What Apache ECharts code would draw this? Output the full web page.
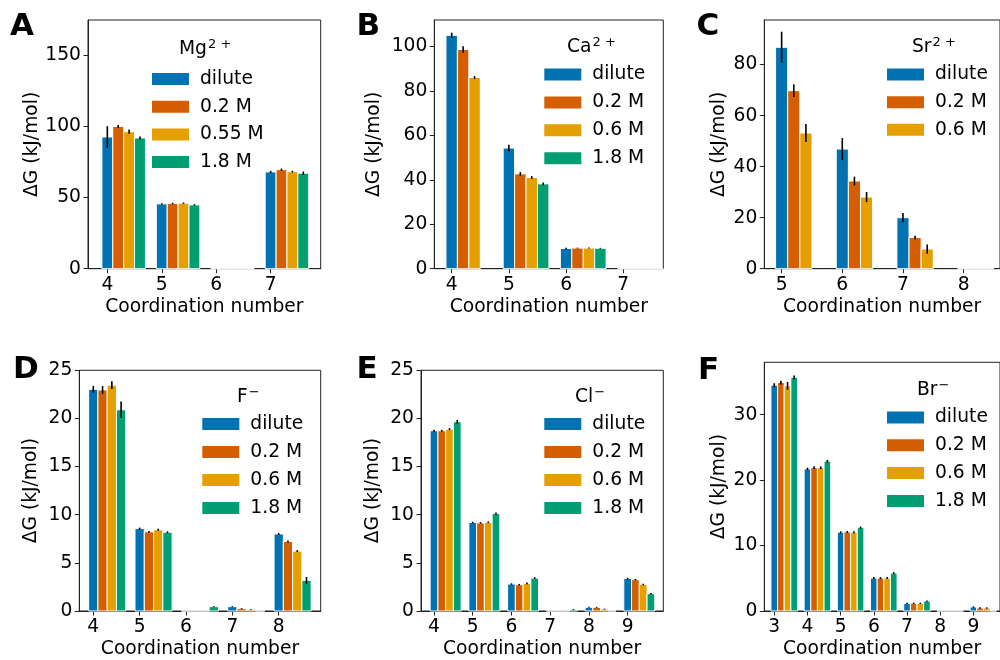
<!DOCTYPE html>
<html>
<head>
<meta charset="utf-8">
<script src="https://cdn.jsdelivr.net/npm/echarts@6/dist/echarts.min.js"></script>
<style>html,body{margin:0;padding:0;background:#fff}#c{width:1000px;height:660px}</style>
</head>
<body>
<div id="c"></div>
<script>
// ---------- DATA ----------
const seriesColors = ['#0072B2', '#D55E00', '#E69F00', '#009E73'];

// A: Mg2+
const catsMg = [4, 5, 6, 7];
const namesMg = ['dilute', '0.2 M', '0.55 M', '1.8 M'];
const mgDilute = [92.7, 45.6, 0, 68.1];
const mg02 = [100.1, 45.9, 0, 69.7];
const mg055 = [96.4, 46.1, 0, 68.3];
const mg18 = [92.0, 44.9, 0, 67.2];
const mgDiluteErr = [7.6, 0.5, 0, 0.8];
const mg02Err = [1.0, 0.5, 0, 0.8];
const mg055Err = [1.5, 0.5, 0, 0.6];
const mg18Err = [1.0, 0.5, 0, 1.2];
const yTicksMg = [0, 50, 100, 150];

// B: Ca2+
const catsCa = [4, 5, 6, 7];
const namesCa = ['dilute', '0.2 M', '0.6 M', '1.8 M'];
const caDilute = [105.1, 54.3, 9.1, 0];
const ca02 = [98.7, 42.7, 9.3, 0];
const ca06 = [86.1, 41.1, 9.3, 0];
const ca18 = [null, 38.2, 9.2, 0];
const caDiluteErr = [1.2, 1.5, 0.3, 0];
const ca02Err = [1.5, 0.8, 0.2, 0];
const ca06Err = [0.6, 0.6, 0.2, 0];
const ca18Err = [0, 0.6, 0.2, 0];
const yTicksCa = [0, 20, 40, 60, 80, 100];

// C: Sr2+
const catsSr = [5, 6, 7, 8];
const namesSr = ['dilute', '0.2 M', '0.6 M'];
const srDilute = [86.8, 46.9, 20.0, 0];
const sr02 = [69.8, 34.4, 12.2, 0];
const sr06 = [53.2, 28.1, 7.7, 0];
const srDiluteErr = [6.1, 4.3, 1.8, 0];
const sr02Err = [2.5, 1.7, 0.7, 0];
const sr06Err = [3.5, 2.0, 1.8, 0];
const yTicksSr = [0, 20, 40, 60, 80];

// D: F-
const catsF = [4, 5, 6, 7, 8];
const namesF = ['dilute', '0.2 M', '0.6 M', '1.8 M'];
const fDilute = [23.03, 8.56, 0, 0.45, 8.0];
const f02 = [22.96, 8.22, 0, 0.25, 7.22];
const f06 = [23.45, 8.43, 0, 0.17, 6.22];
const f18 = [20.9, 8.18, 0.45, 0, 3.18];
const fDiluteErr = [0.35, 0.1, 0, 0.05, 0.1];
const f02Err = [0.4, 0.1, 0, 0.05, 0.1];
const f06Err = [0.4, 0.1, 0, 0.05, 0.1];
const f18Err = [0.86, 0.1, 0.05, 0, 0.35];
const yTicksF = [0, 5, 10, 15, 20, 25];

// E: Cl-
const catsCl = [4, 5, 6, 7, 8, 9];
const namesCl = ['dilute', '0.2 M', '0.6 M', '1.8 M'];
const clDilute = [18.72, 9.19, 2.80, 0, 0.38, 3.38];
const cl02 = [18.72, 9.15, 2.73, 0, 0.38, 3.25];
const cl06 = [18.89, 9.22, 2.87, 0, 0.2, 2.76];
const cl18 = [19.65, 10.12, 3.42, 0.17, 0, 1.8];
const clDiluteErr = [0.1, 0.08, 0.08, 0, 0.05, 0.08];
const cl02Err = [0.1, 0.08, 0.08, 0, 0.05, 0.08];
const cl06Err = [0.1, 0.08, 0.08, 0, 0.05, 0.08];
const cl18Err = [0.2, 0.1, 0.1, 0.05, 0, 0.08];
const yTicksCl = [0, 5, 10, 15, 20, 25];

// F: Br-
const catsBr = [3, 4, 5, 6, 7, 8, 9];
const namesBr = ['dilute', '0.2 M', '0.6 M', '1.8 M'];
const brDilute = [34.5, 21.7, 12.03, 5.03, 1.17, 0, 0.61];
const br02 = [34.9, 21.9, 12.08, 5.03, 1.17, 0, 0.46];
const br06 = [34.4, 21.9, 12.03, 5.03, 1.17, 0, 0.46];
const br18 = [35.7, 22.9, 12.74, 5.79, 1.52, 0, 0];
const brDiluteErr = [0.3, 0.2, 0.15, 0.15, 0.1, 0, 0.1];
const br02Err = [0.3, 0.2, 0.15, 0.15, 0.1, 0, 0.1];
const br06Err = [0.6, 0.2, 0.15, 0.15, 0.1, 0, 0.1];
const br18Err = [0.3, 0.2, 0.15, 0.15, 0.1, 0, 0];
const yTicksBr = [0, 10, 20, 30];

// ---------- LAYOUT ----------
const FONT = 'DejaVu Sans';
const FS = 18.7;
const panels = [
  {letter: 'A', ion: 'Mg', sup: '2 +', cats: catsMg, names: namesMg,
   vals: [mgDilute, mg02, mg055, mg18], errs: [mgDiluteErr, mg02Err, mg055Err, mg18Err], yTicks: yTicksMg,
   grid: {left: 88, top: 20, width: 232.7, height: 248.7}, x: [3.645, 7.92], y: [0, 175], yGap: 46,
   leg: {left: 147, top: 64, gap: 7.7}, ttl: [179, 47], let: [10, 27]},
  {letter: 'B', ion: 'Ca', sup: '2 +', cats: catsCa, names: namesCa,
   vals: [caDilute, ca02, ca06, ca18], errs: [caDiluteErr, ca02Err, ca06Err, ca18Err], yTicks: yTicksCa,
   grid: {left: 434.3, top: 20, width: 229, height: 248.7}, x: [3.696, 7.70], y: [0, 112], yGap: 51,
   leg: {left: 539.3, top: 59.5, gap: 7.9}, ttl: [567, 45], let: [356.5, 27]},
  {letter: 'C', ion: 'Sr', sup: '2 +', cats: catsSr, names: namesSr,
   vals: [srDilute, sr02, sr06], errs: [srDiluteErr, sr02Err, sr06Err], yTicks: yTicksSr,
   grid: {left: 764.3, top: 20, width: 236.3, height: 248.7}, x: [4.714, 8.6], y: [0, 97.5], yGap: 36,
   leg: {left: 882, top: 59.5, gap: 7.65}, ttl: [912, 45], let: [696.5, 27]},
  {letter: 'D', ion: 'F', sup: '−', cats: catsF, names: namesF,
   vals: [fDilute, f02, f06, f18], errs: [fDiluteErr, f02Err, f06Err, f18Err], yTicks: yTicksF,
   grid: {left: 79.3, top: 370.3, width: 241.4, height: 241.4}, x: [3.698, 8.906], y: [0, 25], yGap: 39,
   leg: {left: 197.3, top: 409, gap: 8}, ttl: [237, 395], let: [13, 370]},
  {letter: 'E', ion: 'Cl', sup: '−', cats: catsCl, names: namesCl,
   vals: [clDilute, cl02, cl06, cl18], errs: [clDiluteErr, cl02Err, cl06Err, cl18Err], yTicks: yTicksCl,
   grid: {left: 421, top: 370.3, width: 242.3, height: 241.4}, x: [3.664, 9.92], y: [0, 25], yGap: 38,
   leg: {left: 539.3, top: 409, gap: 8}, ttl: [575, 395], let: [356.5, 370]},
  {letter: 'F', ion: 'Br', sup: '−', cats: catsBr, names: namesBr,
   vals: [brDilute, br02, br06, br18], errs: [brDiluteErr, br02Err, br06Err, br18Err], yTicks: yTicksBr,
   grid: {left: 764.3, top: 362.3, width: 237.9, height: 249.4}, x: [2.70, 9.80], y: [0, 38], yGap: 36,
   leg: {left: 882, top: 402.5, gap: 7.8}, ttl: [917, 388], let: [698, 371]}
];

const BAR_W = 0.2;
const AXIS_COLOR = '#222';

function renderBar(params, api) {
  const x = api.value(0), v = api.value(1), e = api.value(2);
  const base = api.coord([x, 0]);
  const top = api.coord([x, v]);
  const w = api.size([BAR_W, 0])[0];
  const color = api.visual('color');
  const children = [{
    type: 'rect',
    shape: {x: base[0] - w / 2, y: top[1], width: w, height: base[1] - top[1]},
    style: {fill: color, stroke: '#fff', lineWidth: 1}
  }];
  if (e > 0) {
    const lo = api.coord([x, v - e]);
    const hi = api.coord([x, v + e]);
    children.push({
      type: 'line',
      shape: {x1: lo[0], y1: lo[1], x2: hi[0], y2: hi[1]},
      style: {stroke: '#000', lineWidth: 1.6}
    });
  }
  return {type: 'group', children};
}

const grid = [], xAxis = [], yAxis = [], series = [], legend = [], title = [];
panels.forEach((p, pi) => {
  grid.push(Object.assign({show: true, borderColor: AXIS_COLOR, borderWidth: 1, backgroundColor: 'transparent'}, p.grid));
  xAxis.push({
    type: 'value', gridIndex: pi, min: p.x[0], max: p.x[1],
    name: 'Coordination number', nameLocation: 'middle', nameGap: 29,
    nameTextStyle: {fontFamily: FONT, fontSize: FS, color: '#000'},
    axisLine: {show: true, onZero: false, lineStyle: {color: AXIS_COLOR, width: 1}},
    axisTick: {show: true, length: 4.5, customValues: p.cats, lineStyle: {color: AXIS_COLOR, width: 1}},
    axisLabel: {customValues: p.cats, margin: 7, fontFamily: FONT, fontSize: FS, color: '#000'},
    splitLine: {show: false}
  });
  yAxis.push({
    type: 'value', gridIndex: pi, min: p.y[0], max: p.y[1],
    name: 'ΔG (kJ/mol)', nameLocation: 'middle', nameGap: p.yGap,
    nameTextStyle: {fontFamily: FONT, fontSize: FS, color: '#000'},
    axisLine: {show: true, lineStyle: {color: AXIS_COLOR, width: 1}},
    axisTick: {show: true, length: 4.5, customValues: p.yTicks, lineStyle: {color: AXIS_COLOR, width: 1}},
    axisLabel: {customValues: p.yTicks, margin: 7, fontFamily: FONT, fontSize: FS, color: '#000'},
    splitLine: {show: false}
  });
  p.names.forEach((nm, si) => {
    const data = [];
    p.cats.forEach((c, j) => {
      const v = p.vals[si][j];
      if (v === null || v === undefined) return;
      data.push([c + si * BAR_W, v, p.errs[si][j]]);
    });
    series.push({
      type: 'custom', name: nm, xAxisIndex: pi, yAxisIndex: pi,
      itemStyle: {color: seriesColors[si]},
      renderItem: renderBar, data: data, silent: true, animation: false
    });
  });
  legend.push({
    orient: 'vertical', left: p.leg.left, top: p.leg.top, itemGap: p.leg.gap,
    itemWidth: 37, itemHeight: 12, icon: 'rect', selectedMode: false,
    data: p.names.map(n => ({name: n, icon: 'rect'})),
    textStyle: {fontFamily: FONT, fontSize: FS, color: '#000', lineHeight: 20, padding: [0, 0, 0, 6]}
  });
  title.push({
    text: '{n|' + p.ion + '}{s|' + p.sup + '}',
    left: p.ttl[0], top: p.ttl[1] - 12,
    padding: 0,
    textStyle: {
      fontWeight: 'normal',
      rich: {
        n: {fontFamily: FONT, fontSize: FS, fontWeight: 'normal', color: '#000', lineHeight: 24, verticalAlign: 'bottom'},
        s: {fontFamily: FONT, fontSize: 13, fontWeight: 'normal', color: '#000', lineHeight: 24, verticalAlign: 'bottom', padding: [0, 0, 8, 1]}
      }
    }
  });
  title.push({
    text: p.letter, left: p.let[0], top: p.let[1] - 17, padding: 0,
    textStyle: {fontFamily: FONT, fontSize: 31, fontWeight: 'bold', color: '#000', lineHeight: 34}
  });
});

const chart = echarts.init(document.getElementById('c'), null, {renderer: 'canvas'});
chart.setOption({
  animation: false,
  backgroundColor: '#fff',
  grid, xAxis, yAxis, series, legend, title
});
</script>
</body>
</html>
